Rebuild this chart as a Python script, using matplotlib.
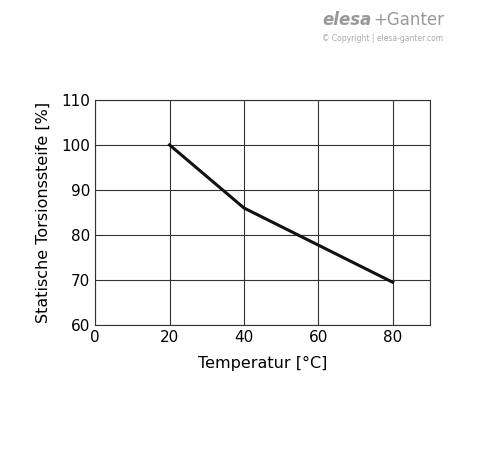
import matplotlib
matplotlib.use("Agg")
import matplotlib.pyplot as plt

temperature = [20, 40, 80]
stiffness = [100, 86, 69.5]
x_ticks = [0, 20, 40, 60, 80]
y_ticks = [60, 70, 80, 90, 100, 110]

fig = plt.figure(figsize=(4.88, 4.54), dpi=100)
ax = fig.add_axes([0.195, 0.284, 0.686, 0.496])
ax.plot(temperature, stiffness, color="#111111", lw=2.2)
ax.set_xlim(0, 90)
ax.set_ylim(60, 110)
ax.set_xticks(x_ticks)
ax.set_yticks(y_ticks)
ax.set_xticks([90], minor=True)
ax.grid(True, which="both", color="#333333", lw=0.8)
ax.tick_params(which="both", length=0, labelsize=11)
for s in ax.spines.values():
    s.set_color("#333333")
    s.set_linewidth(0.8)
ax.set_xlabel("Temperatur [°C]", fontsize=11.5, labelpad=8)
ax.set_ylabel("Statische Torsionssteife [%]", fontsize=11.5, labelpad=8)

fig.text(0.66, 0.945, "elesa", fontsize=12, fontweight="bold", color="#999999", style="italic")
fig.text(0.765, 0.945, "+Ganter", fontsize=12, color="#999999")
fig.text(0.66, 0.91, "© Copyright | elesa-ganter.com", fontsize=5.5, color="#aaaaaa")

fig.savefig("out.png", dpi=100)
